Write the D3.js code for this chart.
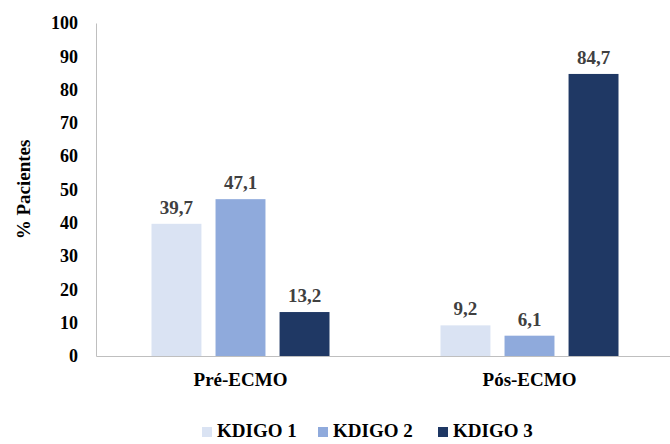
<!DOCTYPE html>
<html>
<head>
<meta charset="utf-8">
<script src="https://cdn.jsdelivr.net/npm/d3@7"></script>
</head>
<body>
<div id="chart"></div>
<script>
// Data
const groups = ["Pré-ECMO", "Pós-ECMO"];
const series = ["KDIGO 1", "KDIGO 2", "KDIGO 3"];
const kdigo1 = [39.7, 9.2];
const kdigo2 = [47.1, 6.1];
const kdigo3 = [13.2, 84.7];
const yTicks = [0, 10, 20, 30, 40, 50, 60, 70, 80, 90, 100];

const values = [kdigo1, kdigo2, kdigo3];
const colors = ["#dae3f3", "#8faadc", "#1f3864"];

const width = 670;
const height = 444;
const margin = {top: 23, right: -4, bottom: 88, left: 96};
const groupWidth = 178;

function serif(sel, size) {
    sel.attr("font-size", size)
        .attr("font-weight", "bold")
        .style("font-family", "'Liberation Serif', monospace");
}

const svg = d3.select("#chart").append("svg")
    .attr("width", width)
    .attr("height", height)
    .style("position", "absolute")
    .style("left", "0px")
    .style("top", "0px");

const x0 = d3.scaleBand()
    .domain(groups)
    .range([margin.left, width - margin.right]);

const x1 = d3.scaleBand()
    .domain(series)
    .range([0, groupWidth])
    .paddingInner(0.22);

const y = d3.scaleLinear()
    .domain([0, 100])
    .range([height - margin.bottom, margin.top]);

// y axis
const yAxis = svg.append("g")
    .attr("transform", `translate(${margin.left},0)`)
    .call(d3.axisLeft(y).tickValues(yTicks).tickSize(0).tickPadding(18));
yAxis.select(".domain").attr("stroke", "#bfbfbf");
yAxis.selectAll("text").attr("fill", "#000").call(serif, 18);

// x axis
const xAxis = svg.append("g")
    .attr("transform", `translate(0,${y(0)})`)
    .call(d3.axisBottom(x0).tickSize(0).tickPadding(17));
xAxis.select(".domain").attr("stroke", "#bfbfbf");
xAxis.selectAll("text").attr("fill", "#000").call(serif, 19);

// bars
const rows = groups.map((g, i) => ({
    group: g,
    items: series.map((s, j) => ({series: s, value: values[j][i], color: colors[j]}))
}));

const gGroup = svg.append("g").selectAll("g")
    .data(rows)
    .join("g")
    .attr("transform", d => `translate(${x0(d.group) + x0.bandwidth() / 2 - groupWidth / 2},0)`);

gGroup.selectAll("rect")
    .data(d => d.items)
    .join("rect")
    .attr("x", d => x1(d.series))
    .attr("y", d => y(d.value))
    .attr("width", x1.bandwidth())
    .attr("height", d => y(0) - y(d.value))
    .attr("fill", d => d.color);

gGroup.selectAll("text.val")
    .data(d => d.items)
    .join("text")
    .attr("class", "val")
    .attr("x", d => x1(d.series) + x1.bandwidth() / 2)
    .attr("y", d => y(d.value) - 10)
    .attr("text-anchor", "middle")
    .attr("fill", "#404040")
    .call(serif, 19)
    .text(d => d3.format(".1f")(d.value).replace(".", ","));

// y title
svg.append("text")
    .attr("transform", `translate(30,${y(50)}) rotate(-90)`)
    .attr("text-anchor", "middle")
    .attr("fill", "#000")
    .call(serif, 19)
    .text("% Pacientes");

// legend
const legendX = [202, 318, 438];
const legend = svg.append("g").selectAll("g")
    .data(series)
    .join("g")
    .attr("transform", (d, i) => `translate(${legendX[i]},437)`);

legend.append("rect")
    .attr("x", 0)
    .attr("y", -10)
    .attr("width", 10)
    .attr("height", 10)
    .attr("fill", (d, i) => colors[i]);

legend.append("text")
    .attr("x", 15)
    .attr("y", 0)
    .attr("fill", "#000")
    .call(serif, 19)
    .text(d => d);
</script>
</body>
</html>
